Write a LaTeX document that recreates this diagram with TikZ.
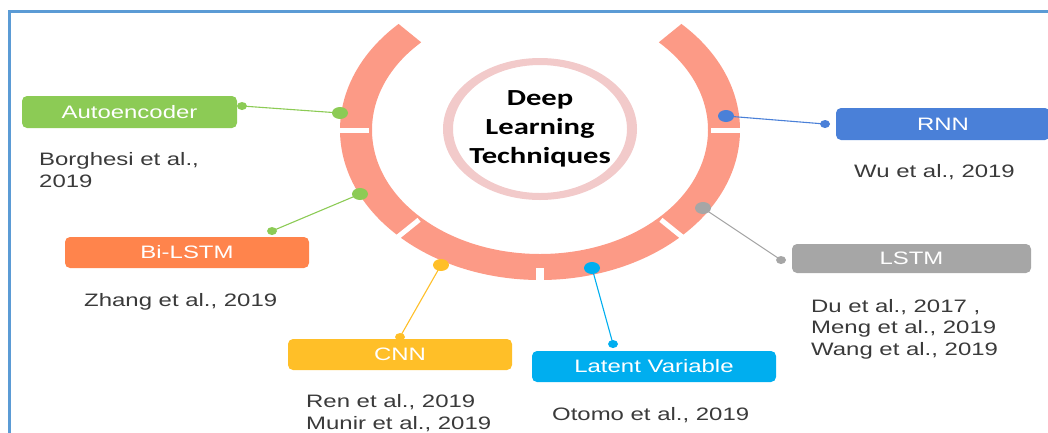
\documentclass[tikz,border=0pt]{standalone}
\usepackage{fontspec}
\setmainfont{Liberation Sans}[FakeStretch=1.33]
\newfontfamily\titlefont{Carlito}[FakeStretch=1.33]
\usetikzlibrary{shapes.geometric}

\definecolor{frameblue}{HTML}{5B9BD5}
\definecolor{ringsalmon}{HTML}{FC9A86}
\definecolor{hubpink}{HTML}{F2CACA}
\definecolor{aegreen}{HTML}{8CCB55}
\definecolor{biorange}{HTML}{FF844C}
\definecolor{cnnyellow}{HTML}{FFBF28}
\definecolor{lvcyan}{HTML}{00AEEF}
\definecolor{rnnblue}{HTML}{4A80D8}
\definecolor{lstmgray}{HTML}{A6A6A6}
\definecolor{reftext}{HTML}{3A3A3A}

\tikzset{
  techbox/.style={rectangle, rounded corners=5pt, inner sep=0pt, text=white,
    font=\fontsize{18}{21}\selectfont},
  bigdot/.style={ellipse, fill=#1, inner sep=0pt, minimum width=16pt, minimum height=12pt},
  smalldot/.style={ellipse, fill=#1, inner sep=0pt, minimum width=10pt, minimum height=8pt},
  link/.style={draw=#1, line width=1.1pt},
  % multi-line reference lists: placed by the baseline of their last line
  refs/.style={anchor=base west, inner sep=0pt, align=left, text=reftext,
    font=\fontsize{18}{21.5}\selectfont},
  sep/.style={draw=white, line width=5pt}
}

\begin{document}
\begin{tikzpicture}[x=1pt, y=-1pt]
\useasboundingbox (0,0) rectangle (1048,432);
\clip (0,0) rectangle (1048,432);

% outer frame
\draw[frameblue, line width=2.2pt] (9.5,445) -- (9.5,11.5) -- (1060,11.5);

% segmented ring around the hub
\begin{scope}[shift={(540,130)}, yscale=-1]
  \fill[ringsalmon] (135:200 and 150)
    arc[start angle=135, end angle=405, x radius=200, y radius=150]
    -- (45:168 and 124)
    arc[start angle=45, end angle=-225, x radius=168, y radius=124]
    -- cycle;
  \foreach \a in {180,225,315,360}
    \draw[sep] (\a:202 and 152) -- (\a:171 and 127);
  \draw[draw=white, line width=8pt] (270:152) -- (270:138);
\end{scope}

% hub
\fill[hubpink, even odd rule] (540,129) ellipse [x radius=97, y radius=71]
  (540,129) ellipse [x radius=87, y radius=64];
\node[font=\titlefont\bfseries\fontsize{23}{29}\selectfont, align=center,
  anchor=base, inner sep=0pt] (hub) at (540,163) {Deep\\Learning\\Techniques};

% technique boxes
\node[techbox, fill=aegreen,   minimum width=215pt, minimum height=32pt] (ae)   at (129.5,112)   {Autoencoder};
\node[techbox, fill=biorange,  minimum width=244pt, minimum height=31pt] (bi)   at (187,252.5)   {Bi-LSTM};
\node[techbox, fill=cnnyellow, minimum width=224pt, minimum height=31pt] (cnn)  at (400,354.5)   {CNN};
\node[techbox, fill=lvcyan,    minimum width=244pt, minimum height=31pt] (lv)   at (654,366.5)   {Latent Variable};
\node[techbox, fill=rnnblue,   minimum width=214pt, minimum height=32pt] (rnn)  at (943,124)     {RNN};
\node[techbox, fill=lstmgray,  minimum width=239pt, minimum height=29pt] (lstm) at (911.5,258.5) {LSTM};

% connector dots
\node[bigdot=aegreen]    (aeR)   at (340,113) {};
\node[smalldot=aegreen]  (aeB)   at (242,106) {};
\node[bigdot=aegreen]    (biR)   at (360,194) {};
\node[smalldot=aegreen]  (biB)   at (272,231) {};
\node[bigdot=cnnyellow]  (cnnR)  at (441,265) {};
\node[smalldot=cnnyellow](cnnB)  at (400,337) {};
\node[bigdot=lvcyan]     (lvR)   at (592,268) {};
\node[smalldot=lvcyan]   (lvB)   at (613,344) {};
\node[bigdot=rnnblue]    (rnnR)  at (726,116) {};
\node[smalldot=rnnblue]  (rnnB)  at (825,124) {};
\node[bigdot=lstmgray]   (lstmR) at (703,208) {};
\node[smalldot=lstmgray] (lstmB) at (781,260) {};

% connectors
\draw[link=aegreen]   (aeR.center)   -- (aeB.center);
\draw[link=aegreen]   (biR.center)   -- (biB.center);
\draw[link=cnnyellow] (cnnR.center)  -- (cnnB.center);
\draw[link=lvcyan]    (lvR.center)   -- (lvB.center);
\draw[link=rnnblue]   (rnnR.center)  -- (rnnB.center);
\draw[link=lstmgray]  (lstmR.center) -- (lstmB.center);

% references
\node[refs] (aeRef)   at (39,187)  {Borghesi et al.,\\2019};
\node[refs] (biRef)   at (84,306)  {Zhang et al., 2019};
\node[refs] (cnnRef)  at (306,429) {Ren et al., 2019\\Munir et al., 2019};
\node[refs] (lvRef)   at (552,420) {Otomo et al., 2019};
\node[refs] (rnnRef)  at (854,177) {Wu et al., 2019};
\node[refs] (lstmRef) at (811,355) {Du et al., 2017 ,\\Meng et al., 2019\\Wang et al., 2019};
\end{tikzpicture}
\end{document}
